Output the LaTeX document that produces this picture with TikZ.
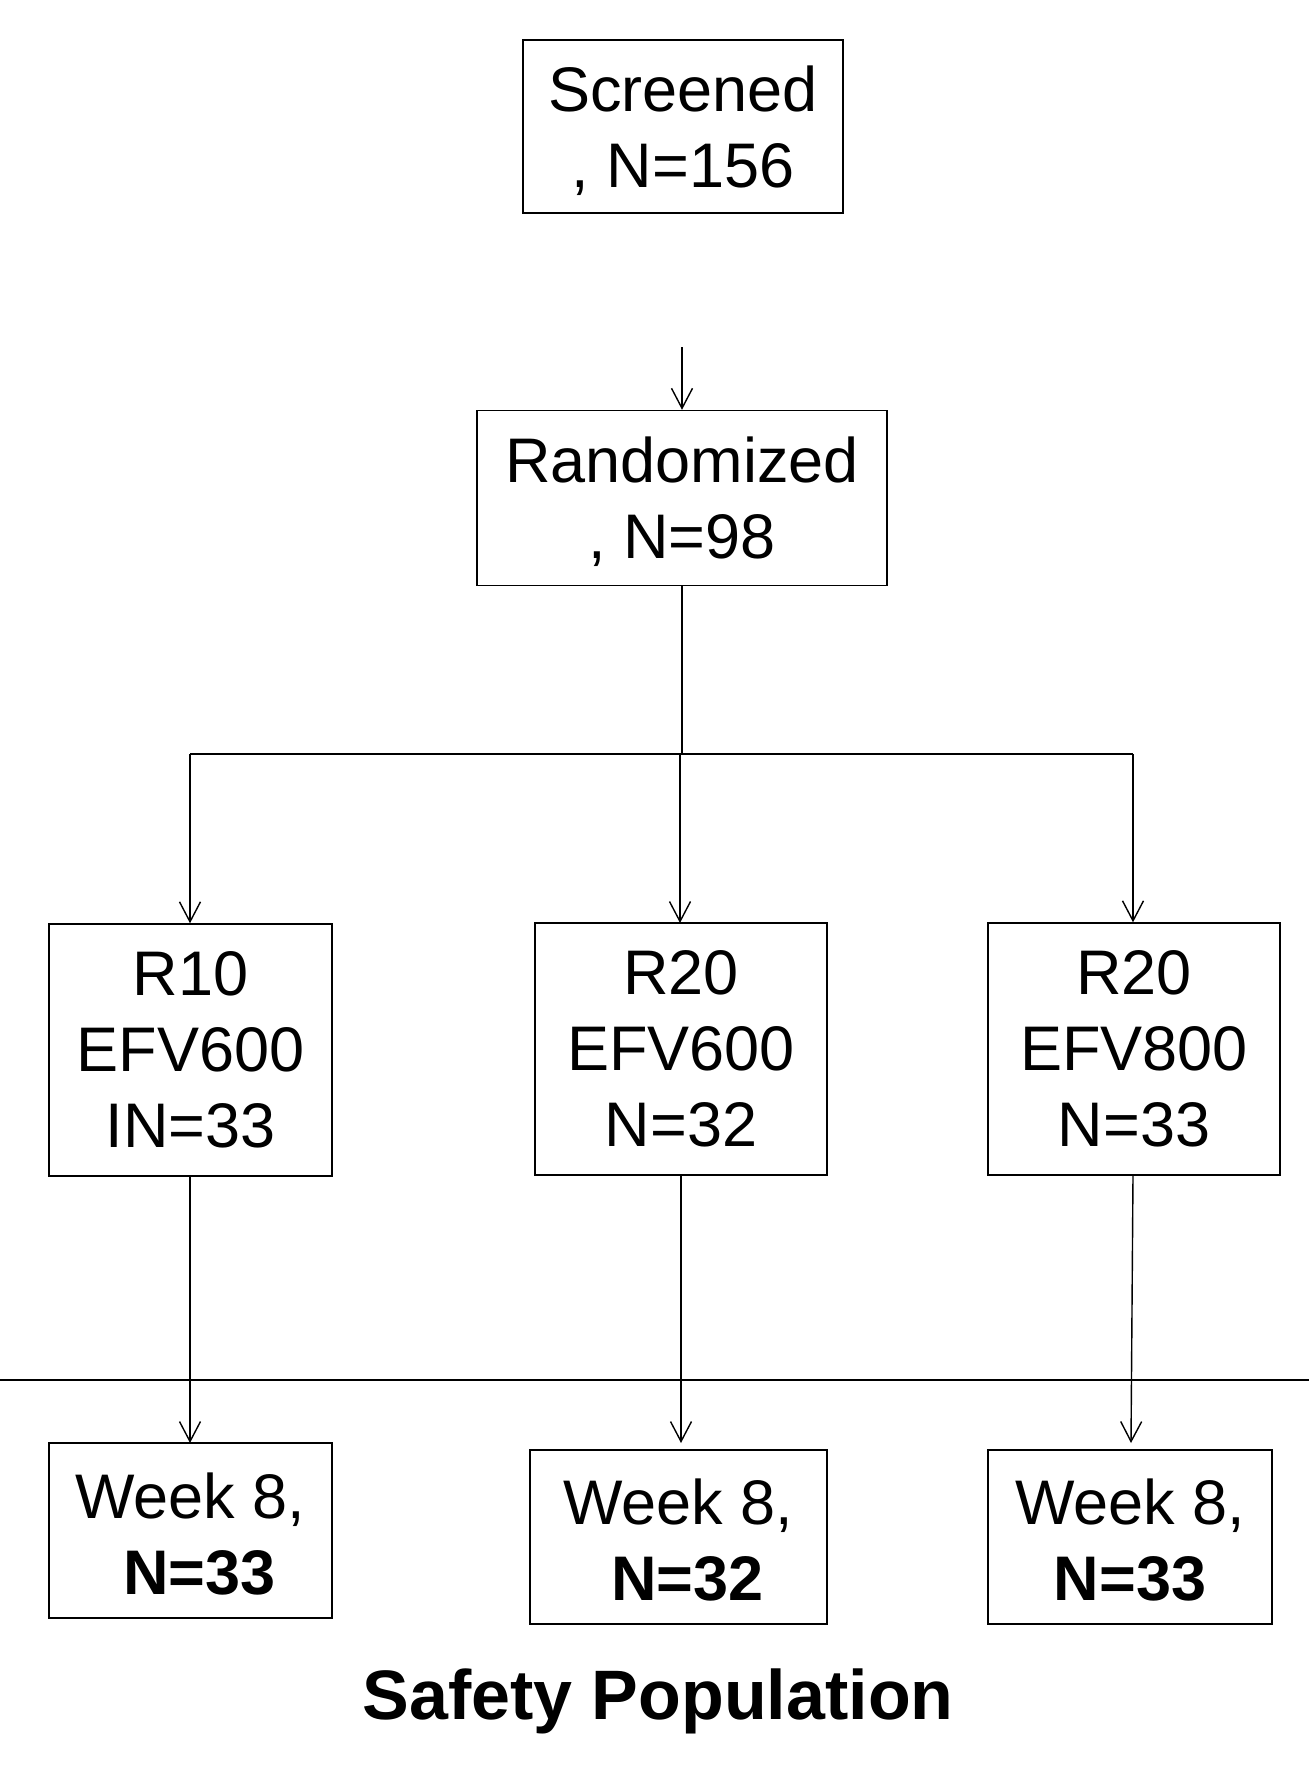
\documentclass[tikz,border=0pt]{standalone}
\usepackage{fontspec}
\setmainfont{Liberation Sans}
\usetikzlibrary{arrows.meta}
\begin{document}
\begin{tikzpicture}[x=1pt,y=-1pt,
  boxstyle/.style={draw=black, line width=1.4pt, inner sep=0pt, align=center,
    font=\fontsize{63}{76}\selectfont},
  conn/.style={line width=1.4pt, -{Straight Barb[length=20pt,width=21pt,line width=1.4pt]}},
  plainline/.style={line width=1.4pt},
  stemline/.style={line width=2.8pt}
]
\useasboundingbox (0,0) rectangle (1309,1771);
\fill[white] (0,0) rectangle (1309,1771);

% top boxes
\node[boxstyle, minimum width=320pt, minimum height=173pt] (scr) at (683,126.5) {Screened\\\smash{,} N=156};
\node[boxstyle, minimum width=410pt, minimum height=175pt] (rnd) at (682,498) {Randomized\\\smash{,} N=98};

% arm boxes
\node[boxstyle, minimum width=283pt, minimum height=252pt] (armA) at (190.5,1050) {R10\\EFV600\\IN=33};
\node[boxstyle, minimum width=292pt, minimum height=252pt] (armB) at (681,1049) {R20\\EFV600\\N=32};
\node[boxstyle, minimum width=292pt, minimum height=252pt] (armC) at (1134,1049) {R20\\EFV800\\N=33};

% week boxes
\node[boxstyle, minimum width=283pt, minimum height=175pt] (wkA) at (190.5,1530.5) {\rule{0pt}{52pt}Week 8,\\\hspace*{0.278em}\textbf{N=33}};
\node[boxstyle, minimum width=297pt, minimum height=174pt] (wkB) at (678.5,1537) {\rule{0pt}{52pt}Week 8,\\\hspace*{0.278em}\textbf{N=32}};
\node[boxstyle, minimum width=284pt, minimum height=174pt] (wkC) at (1130,1537) {\rule{0pt}{52pt}Week 8,\\\textbf{N=33}};

% title
\node[anchor=base, inner sep=0pt, font=\fontsize{70}{84}\selectfont\bfseries] (title) at (658,1719) {Safety Population};

% coordinates
\coordinate (start) at (682,347);
\coordinate (junc) at (682,754);
\coordinate (jl) at (190,754);
\coordinate (jr) at (1133,754);
\coordinate (divL) at (0,1380);
\coordinate (divR) at (1309,1380);

% connectors
\draw[conn] (start) -- (rnd.north);
\draw[stemline] (rnd.south) -- (junc);
\draw[plainline] (jl) -- (jr);
\draw[conn] (jl) -- (jl |- armA.north);
\draw[conn] (680,754) -- (680,923);
\draw[conn] (jr) -- (jr |- armC.north);

\draw[plainline] (divL) -- (divR);

\draw[conn] (190,1176) -- (190,1443);
\draw[conn] (681,1175) -- (681,1443);
\draw[conn] (1133,1175) -- (1131,1443);
\end{tikzpicture}
\end{document}
